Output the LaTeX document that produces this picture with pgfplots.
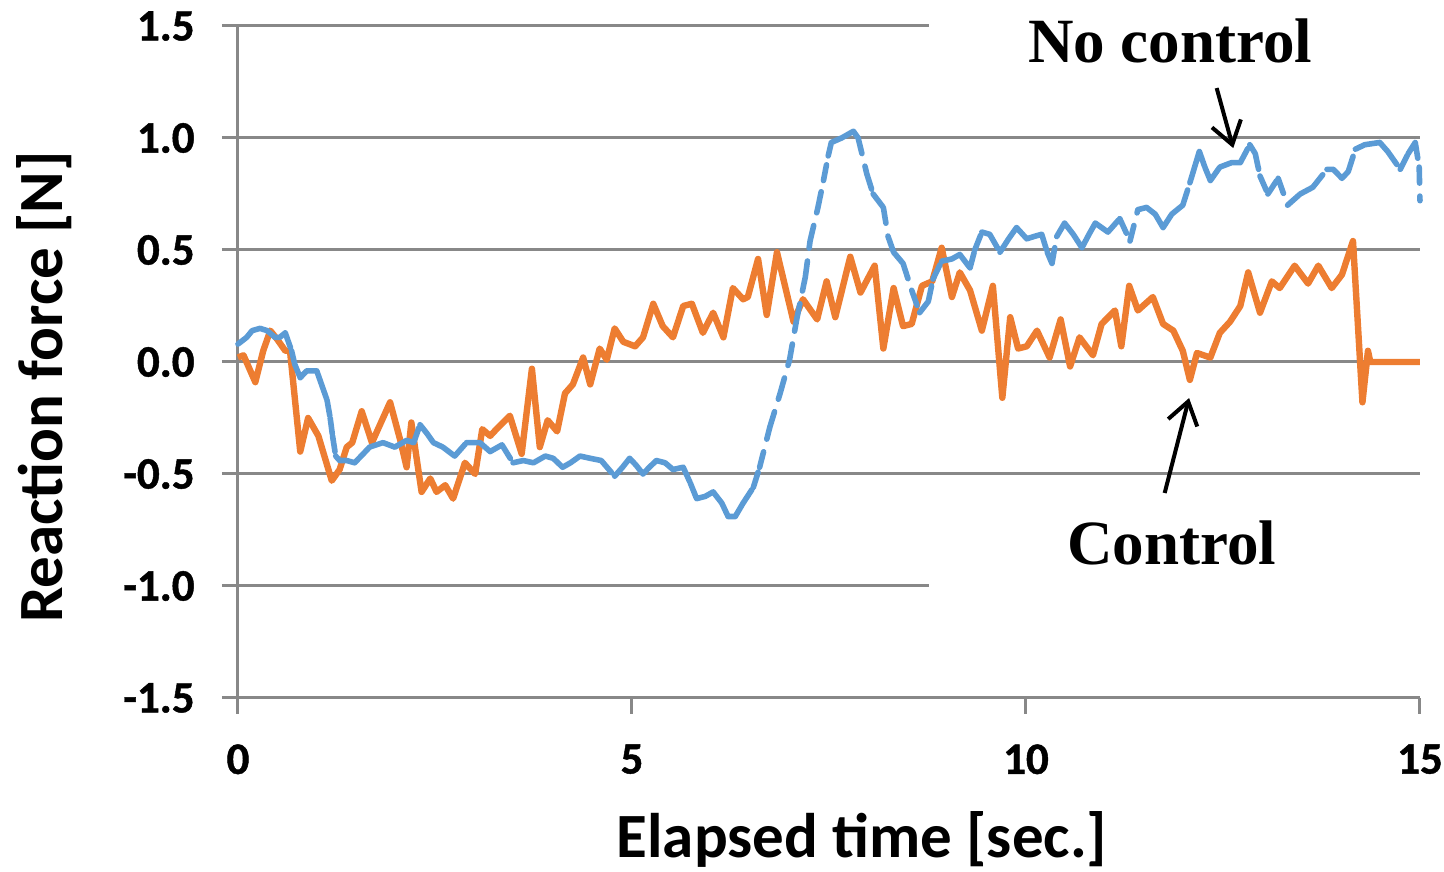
\documentclass[border=0pt]{standalone}
\usepackage{pgfplots}
\pgfplotsset{compat=1.18}
\usepackage{fontspec}
\usetikzlibrary{arrows.meta}
\newfontfamily\calb{Carlito}
\newfontfamily\calbtick{Carlito}[BoldFeatures={FakeBold=1}]
\newfontfamily\timesb{Liberation Serif}
\newcommand\tl{\calbtick\bfseries\fontsize{22.5}{22.5}\selectfont}
\newcommand\lab{\calb\bfseries\fontsize{31.5}{31.5}\selectfont}
\newcommand\ann{\timesb\bfseries\fontsize{31.5}{31.5}\selectfont}
\definecolor{nblue}{HTML}{5B9BD5}
\definecolor{corange}{HTML}{ED7D31}
\definecolor{gridgray}{HTML}{888888}
\begin{document}
\begin{tikzpicture}
\begin{axis}[
  scale only axis, width=591pt, height=336pt,
  xmin=0, xmax=15, ymin=-1.5, ymax=1.5,
  axis x line=bottom, axis y line=left,
  axis line style={draw=gridgray, line width=1.5pt, -},
  xtick={0,5,10,15}, xticklabels={0,5,10,15},
  ytick={-1.5,-1,-0.5,0,0.5,1,1.5},
  yticklabels={-1.5,-1.0,-0.5,0.0,0.5,1.0,1.5},
  tick align=outside, major tick length=8pt,
  tick style={draw=gridgray, line width=1.5pt},
  xticklabel style={font=\tl, anchor=north, inner sep=0pt, yshift=-15pt},
  yticklabel style={font=\tl, anchor=east, inner sep=0pt, xshift=-13.5pt},
  clip=false,
]
% grid lines
\draw[gridgray, line width=1.5pt] (axis cs:0,1) -- (axis cs:15,1);
\draw[gridgray, line width=1.5pt] (axis cs:0,0.5) -- (axis cs:15,0.5);
\draw[gridgray, line width=1.5pt] (axis cs:0,0) -- (axis cs:15,0);
\draw[gridgray, line width=1.5pt] (axis cs:0,-0.5) -- (axis cs:15,-0.5);
\draw[gridgray, line width=1.5pt] (axis cs:0,1.5) -- (axis cs:8.77,1.5);
\draw[gridgray, line width=1.5pt] (axis cs:0,-1) -- (axis cs:8.77,-1);

% Control (orange, solid)
\addplot[corange, line width=3.2pt, line join=round, no marks] table[row sep=\\] {
t v\\
0 0.02\\ 0.07 0.03\\ 0.22 -0.09\\ 0.32 0.05\\ 0.41 0.14\\ 0.50 0.10\\ 0.60 0.05\\ 0.66 0.05\\
0.79 -0.40\\ 0.89 -0.25\\ 1.02 -0.33\\ 1.19 -0.53\\ 1.29 -0.48\\ 1.38 -0.38\\ 1.45 -0.36\\
1.57 -0.22\\ 1.70 -0.36\\ 1.93 -0.18\\ 2.06 -0.35\\ 2.14 -0.47\\ 2.20 -0.27\\ 2.33 -0.58\\
2.44 -0.52\\ 2.52 -0.58\\ 2.63 -0.55\\ 2.73 -0.61\\ 2.88 -0.45\\ 3.01 -0.50\\ 3.10 -0.30\\
3.20 -0.33\\ 3.28 -0.30\\ 3.45 -0.24\\ 3.60 -0.41\\ 3.73 -0.03\\ 3.83 -0.38\\ 3.93 -0.26\\
4.05 -0.31\\ 4.15 -0.14\\ 4.25 -0.10\\ 4.38 0.02\\ 4.47 -0.10\\ 4.59 0.06\\ 4.68 0.01\\
4.78 0.15\\ 4.89 0.09\\ 5.04 0.07\\ 5.14 0.11\\ 5.27 0.26\\ 5.39 0.16\\ 5.52 0.11\\
5.65 0.25\\ 5.76 0.26\\ 5.90 0.13\\ 6.03 0.22\\ 6.16 0.11\\ 6.28 0.33\\ 6.41 0.28\\
6.47 0.29\\ 6.60 0.46\\ 6.71 0.21\\ 6.84 0.49\\ 7.05 0.18\\ 7.17 0.28\\ 7.35 0.19\\
7.47 0.36\\ 7.58 0.20\\ 7.77 0.47\\ 7.90 0.31\\ 8.08 0.43\\ 8.19 0.06\\ 8.32 0.33\\
8.44 0.16\\ 8.55 0.17\\ 8.68 0.34\\ 8.81 0.36\\ 8.93 0.51\\ 9.06 0.29\\ 9.16 0.40\\
9.29 0.32\\ 9.44 0.14\\ 9.58 0.34\\ 9.70 -0.16\\ 9.80 0.20\\ 9.90 0.06\\ 10.01 0.07\\
10.14 0.14\\ 10.30 0.02\\ 10.44 0.19\\ 10.56 -0.02\\ 10.68 0.11\\ 10.85 0.03\\ 10.96 0.17\\
11.13 0.23\\ 11.21 0.07\\ 11.31 0.34\\ 11.42 0.23\\ 11.61 0.29\\ 11.74 0.17\\ 11.87 0.14\\
11.99 0.05\\ 12.08 -0.08\\ 12.17 0.04\\ 12.34 0.02\\ 12.46 0.13\\ 12.59 0.18\\ 12.72 0.25\\
12.82 0.40\\ 12.97 0.22\\ 13.12 0.36\\ 13.22 0.33\\ 13.41 0.43\\ 13.58 0.35\\ 13.71 0.43\\
13.88 0.33\\ 14.01 0.39\\ 14.15 0.54\\ 14.27 -0.18\\ 14.34 0.05\\ 14.37 0.00\\ 15.00 0.00\\
};

% No control (blue, dashed; each segment its own subpath so the dash restarts)
\addplot[nblue, line width=2.8pt, line cap=round, line join=round, dash pattern=on 8pt off 6.5pt, no marks, unbounded coords=jump] table[row sep=\\] {
t v\\
0 0.08\\ 0.11 0.11\\ nan nan\\
0.11 0.11\\ 0.18 0.14\\ nan nan\\
0.18 0.14\\ 0.28 0.15\\ nan nan\\
0.28 0.15\\ 0.37 0.14\\ nan nan\\
0.37 0.14\\ 0.47 0.11\\ nan nan\\
0.47 0.11\\ 0.53 0.11\\ nan nan\\
0.53 0.11\\ 0.60 0.13\\ nan nan\\
0.60 0.13\\ 0.68 0.05\\ nan nan\\
0.68 0.05\\ 0.72 -0.01\\ nan nan\\
0.72 -0.01\\ 0.79 -0.07\\ nan nan\\
0.79 -0.07\\ 0.87 -0.04\\ nan nan\\
0.87 -0.04\\ 1.00 -0.04\\ nan nan\\
1.00 -0.04\\ 1.06 -0.10\\ nan nan\\
1.06 -0.10\\ 1.13 -0.17\\ nan nan\\
1.13 -0.17\\ 1.17 -0.25\\ nan nan\\
1.17 -0.25\\ 1.20 -0.33\\ nan nan\\
1.20 -0.33\\ 1.24 -0.42\\ nan nan\\
1.24 -0.42\\ 1.29 -0.44\\ nan nan\\
1.29 -0.44\\ 1.38 -0.44\\ nan nan\\
1.38 -0.44\\ 1.48 -0.45\\ nan nan\\
1.48 -0.45\\ 1.59 -0.41\\ nan nan\\
1.59 -0.41\\ 1.67 -0.38\\ nan nan\\
1.67 -0.38\\ 1.84 -0.36\\ nan nan\\
1.84 -0.36\\ 1.99 -0.38\\ nan nan\\
1.99 -0.38\\ 2.14 -0.35\\ nan nan\\
2.14 -0.35\\ 2.23 -0.36\\ nan nan\\
2.23 -0.36\\ 2.31 -0.28\\ nan nan\\
2.31 -0.28\\ 2.40 -0.32\\ nan nan\\
2.40 -0.32\\ 2.48 -0.36\\ nan nan\\
2.48 -0.36\\ 2.60 -0.38\\ nan nan\\
2.60 -0.38\\ 2.75 -0.42\\ nan nan\\
2.75 -0.42\\ 2.90 -0.36\\ nan nan\\
2.90 -0.36\\ 3.07 -0.36\\ nan nan\\
3.07 -0.36\\ 3.20 -0.40\\ nan nan\\
3.20 -0.40\\ 3.35 -0.37\\ nan nan\\
3.35 -0.37\\ 3.49 -0.45\\ nan nan\\
3.49 -0.45\\ 3.62 -0.44\\ nan nan\\
3.62 -0.44\\ 3.75 -0.45\\ nan nan\\
3.75 -0.45\\ 3.90 -0.42\\ nan nan\\
3.90 -0.42\\ 4.00 -0.43\\ nan nan\\
4.00 -0.43\\ 4.12 -0.47\\ nan nan\\
4.12 -0.47\\ 4.22 -0.45\\ nan nan\\
4.22 -0.45\\ 4.34 -0.42\\ nan nan\\
4.34 -0.42\\ 4.47 -0.43\\ nan nan\\
4.47 -0.43\\ 4.61 -0.44\\ nan nan\\
4.61 -0.44\\ 4.78 -0.51\\ nan nan\\
4.78 -0.51\\ 4.88 -0.47\\ nan nan\\
4.88 -0.47\\ 4.97 -0.43\\ nan nan\\
4.97 -0.43\\ 5.05 -0.46\\ nan nan\\
5.05 -0.46\\ 5.14 -0.50\\ nan nan\\
5.14 -0.50\\ 5.22 -0.47\\ nan nan\\
5.22 -0.47\\ 5.31 -0.44\\ nan nan\\
5.31 -0.44\\ 5.42 -0.45\\ nan nan\\
5.42 -0.45\\ 5.52 -0.48\\ nan nan\\
5.52 -0.48\\ 5.65 -0.47\\ nan nan\\
5.65 -0.47\\ 5.74 -0.54\\ nan nan\\
5.74 -0.54\\ 5.82 -0.61\\ nan nan\\
5.82 -0.61\\ 5.93 -0.60\\ nan nan\\
5.93 -0.60\\ 6.03 -0.58\\ nan nan\\
6.03 -0.58\\ 6.14 -0.63\\ nan nan\\
6.14 -0.63\\ 6.22 -0.69\\ nan nan\\
6.22 -0.69\\ 6.31 -0.69\\ nan nan\\
6.31 -0.69\\ 6.41 -0.63\\ nan nan\\
6.41 -0.63\\ 6.54 -0.56\\ nan nan\\
6.54 -0.56\\ 6.62 -0.47\\ nan nan\\
6.62 -0.47\\ 6.75 -0.29\\ nan nan\\
6.75 -0.29\\ 6.88 -0.14\\ nan nan\\
6.88 -0.14\\ 7.00 0.01\\ nan nan\\
7.00 0.01\\ 7.09 0.19\\ nan nan\\
7.09 0.19\\ 7.20 0.38\\ nan nan\\
7.20 0.38\\ 7.26 0.54\\ nan nan\\
7.26 0.54\\ 7.36 0.69\\ nan nan\\
7.36 0.69\\ 7.43 0.81\\ nan nan\\
7.43 0.81\\ 7.49 0.92\\ nan nan\\
7.49 0.92\\ 7.53 0.98\\ nan nan\\
7.53 0.98\\ 7.66 1.00\\ nan nan\\
7.66 1.00\\ 7.81 1.03\\ nan nan\\
7.81 1.03\\ 7.87 1.00\\ nan nan\\
7.87 1.00\\ 7.98 0.84\\ nan nan\\
7.98 0.84\\ 8.06 0.75\\ nan nan\\
8.06 0.75\\ 8.19 0.69\\ nan nan\\
8.19 0.69\\ 8.25 0.56\\ nan nan\\
8.25 0.56\\ 8.32 0.49\\ nan nan\\
8.32 0.49\\ 8.44 0.44\\ nan nan\\
8.44 0.44\\ 8.55 0.32\\ nan nan\\
8.55 0.32\\ 8.65 0.22\\ nan nan\\
8.65 0.22\\ 8.76 0.27\\ nan nan\\
8.76 0.27\\ 8.82 0.37\\ nan nan\\
8.82 0.37\\ 8.93 0.45\\ nan nan\\
8.93 0.45\\ 9.06 0.46\\ nan nan\\
9.06 0.46\\ 9.16 0.48\\ nan nan\\
9.16 0.48\\ 9.29 0.42\\ nan nan\\
9.29 0.42\\ 9.35 0.50\\ nan nan\\
9.35 0.50\\ 9.44 0.58\\ nan nan\\
9.44 0.58\\ 9.54 0.57\\ nan nan\\
9.54 0.57\\ 9.67 0.49\\ nan nan\\
9.67 0.49\\ 9.78 0.55\\ nan nan\\
9.78 0.55\\ 9.88 0.60\\ nan nan\\
9.88 0.60\\ 10.01 0.55\\ nan nan\\
10.01 0.55\\ 10.10 0.56\\ nan nan\\
10.10 0.56\\ 10.20 0.57\\ nan nan\\
10.20 0.57\\ 10.27 0.49\\ nan nan\\
10.27 0.49\\ 10.33 0.44\\ nan nan\\
10.33 0.44\\ 10.39 0.56\\ nan nan\\
10.39 0.56\\ 10.49 0.62\\ nan nan\\
10.49 0.62\\ 10.60 0.57\\ nan nan\\
10.60 0.57\\ 10.71 0.51\\ nan nan\\
10.71 0.51\\ 10.80 0.57\\ nan nan\\
10.80 0.57\\ 10.88 0.62\\ nan nan\\
10.88 0.62\\ 11.04 0.58\\ nan nan\\
11.04 0.58\\ 11.19 0.64\\ nan nan\\
11.19 0.64\\ 11.32 0.54\\ nan nan\\
11.32 0.54\\ 11.42 0.68\\ nan nan\\
11.42 0.68\\ 11.53 0.69\\ nan nan\\
11.53 0.69\\ 11.64 0.66\\ nan nan\\
11.64 0.66\\ 11.74 0.60\\ nan nan\\
11.74 0.60\\ 11.85 0.66\\ nan nan\\
11.85 0.66\\ 11.99 0.70\\ nan nan\\
11.99 0.70\\ 12.08 0.80\\ nan nan\\
12.08 0.80\\ 12.14 0.87\\ nan nan\\
12.14 0.87\\ 12.20 0.94\\ nan nan\\
12.20 0.94\\ 12.27 0.87\\ nan nan\\
12.27 0.87\\ 12.34 0.81\\ nan nan\\
12.34 0.81\\ 12.46 0.87\\ nan nan\\
12.46 0.87\\ 12.61 0.89\\ nan nan\\
12.61 0.89\\ 12.72 0.89\\ nan nan\\
12.72 0.89\\ 12.84 0.97\\ nan nan\\
12.84 0.97\\ 12.91 0.93\\ nan nan\\
12.91 0.93\\ 12.97 0.83\\ nan nan\\
12.97 0.83\\ 13.07 0.75\\ nan nan\\
13.07 0.75\\ 13.20 0.82\\ nan nan\\
13.20 0.82\\ 13.32 0.70\\ nan nan\\
13.32 0.70\\ 13.48 0.75\\ nan nan\\
13.48 0.75\\ 13.64 0.78\\ nan nan\\
13.64 0.78\\ 13.82 0.86\\ nan nan\\
13.82 0.86\\ 13.90 0.86\\ nan nan\\
13.90 0.86\\ 14.01 0.82\\ nan nan\\
14.01 0.82\\ 14.09 0.85\\ nan nan\\
14.09 0.85\\ 14.18 0.95\\ nan nan\\
14.18 0.95\\ 14.30 0.97\\ nan nan\\
14.30 0.97\\ 14.49 0.98\\ nan nan\\
14.49 0.98\\ 14.59 0.94\\ nan nan\\
14.59 0.94\\ 14.75 0.86\\ nan nan\\
14.75 0.86\\ 14.85 0.93\\ nan nan\\
14.85 0.93\\ 14.94 0.98\\ nan nan\\
14.94 0.98\\ 14.99 0.87\\ nan nan\\
14.99 0.87\\ 15.00 0.72\\
};

% annotations
\node[anchor=base, font=\ann, inner sep=0pt] at (axis cs:11.83,1.339) {No control};
\draw[line width=2pt, -{Straight Barb[length=11pt,width=15pt]}] (axis cs:12.42,1.223) -- (axis cs:12.63,0.955);
\node[anchor=base, font=\ann, inner sep=0pt] at (axis cs:11.85,-0.906) {Control};
\draw[line width=2pt, -{Straight Barb[length=11pt,width=15pt]}] (axis cs:11.76,-0.585) -- (axis cs:12.07,-0.161);

% axis titles
\node[anchor=base, font=\lab, inner sep=0pt] at (axis cs:7.92,-2.21) {Elapsed time [sec.]};
\node[anchor=base, rotate=90, font=\lab, inner sep=0pt] at (axis cs:-2.221,-0.112) {Reaction force [N]};

\coordinate (bbSW) at (axis cs:-3.0203,-2.2768);
\coordinate (bbNE) at (axis cs:15.305,1.6161);
\end{axis}
\pgfresetboundingbox
\path (bbSW) rectangle (bbNE);
\end{tikzpicture}
\end{document}
